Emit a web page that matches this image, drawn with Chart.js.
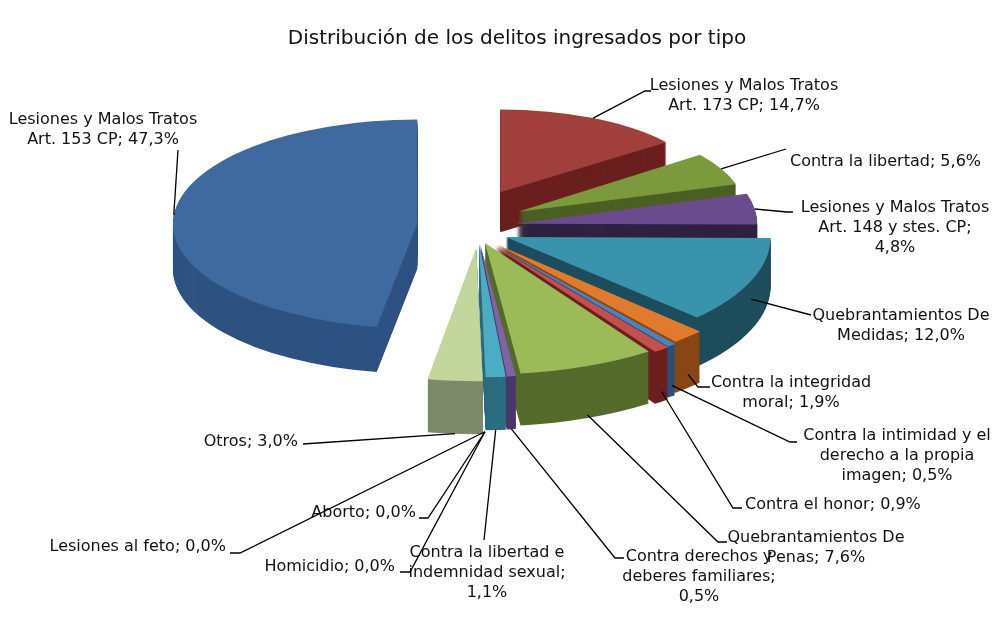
<!DOCTYPE html>
<html>
<head>
<meta charset="utf-8">
<script src="https://cdn.jsdelivr.net/npm/chart.js@4.4.1/dist/chart.umd.min.js"></script>
<style>
  html, body { margin: 0; padding: 0; background: #fff; }
  canvas { display: block; }
</style>
</head>
<body>
<canvas id="pieChart" width="1000" height="632"></canvas>
<script>
// data
const categories = [
  'Lesiones y Malos Tratos\nArt. 173 CP',
  'Contra la libertad',
  'Lesiones y Malos Tratos\nArt. 148 y stes. CP',
  'Quebrantamientos De\nMedidas',
  'Contra la integridad\nmoral',
  'Contra la intimidad y el\nderecho a la propia\nimagen',
  'Contra el honor',
  'Quebrantamientos De\nPenas',
  'Contra derechos y\ndeberes familiares',
  'Contra la libertad e\nindemnidad sexual',
  'Homicidio',
  'Lesiones al feto',
  'Aborto',
  'Otros',
  'Lesiones y Malos Tratos\nArt. 153 CP'
];
const values = [14.7, 5.6, 4.8, 12.0, 1.9, 0.5, 0.9, 7.6, 0.5, 1.1, 0.0, 0.0, 0.0, 3.0, 47.3];

// styles
const topColors = ['#A13F3C', '#7A9A3C', '#6A4C8E', '#3A93AD', '#E07A2E', '#4F81BD', '#C4504D',
  '#9BBB59', '#8064A2', '#4BACC6', '#999999', '#999999', '#999999', '#C3D69B', '#3E6A9F'];
const sideColors = ['#6B1F1E', '#4B6024', '#2E2142', '#1E4D5D', '#8A4716', '#2B4E7B', '#6C1F1F',
  '#556B2C', '#4A3768', '#2A6C80', '#666666', '#666666', '#666666', '#7D8A6A', '#2E5282'];
const explode = [50, 45, 38, 30, 28, 28, 28, 20, 20, 20, 22, 22, 22, 25, 61];
const TILT = 0.43;      // vertical squash of the pie
const PERSP_X = 0.18;   // slices toward the viewer look wider
const PERSP_Y = 0.25;   // ... and deeper
const EXPLODE_V = 0.8;
const DEPTH = 46;

// label placement: text anchor, leader end and tick end
const labelLayout = [
  { x: 744, y: 86,  align: 'center', ex: 645, ey: 91,  tx: 651 },
  { x: 790, y: 162, align: 'left',   ex: 786, ey: 149, tx: 786 },
  { x: 895, y: 208, align: 'center', ex: 787, ey: 212, tx: 793, brk: true },
  { x: 901, y: 316, align: 'center', ex: 811, ey: 315, tx: 811 },
  { x: 791, y: 383, align: 'center', ex: 698, ey: 387, tx: 710 },
  { x: 897, y: 436, align: 'center', ex: 790, ey: 442, tx: 797 },
  { x: 745, y: 505, align: 'left',   ex: 733, ey: 508, tx: 742 },
  { x: 816, y: 538, align: 'center', ex: 718, ey: 542, tx: 727 },
  { x: 699, y: 557, align: 'center', ex: 615, ey: 558, tx: 624, brk: true },
  { x: 487, y: 553, align: 'center', ex: 484, ey: 540, tx: 484, brk: true },
  { x: 395, y: 567, align: 'right',  ex: 410, ey: 572, tx: 400 },
  { x: 226, y: 547, align: 'right',  ex: 240, ey: 553, tx: 230 },
  { x: 416, y: 513, align: 'right',  ex: 428, ey: 518, tx: 419 },
  { x: 298, y: 442, align: 'right',  ex: 303, ey: 444, tx: 303 },
  { x: 103, y: 120, align: 'center', ex: 178, ey: 150, tx: 178 }
];

const fmt = v => v.toFixed(1).replace('.', ',') + '%';

// where a slice sits once tilted and pulled out
function sliceGeom(arc, i) {
  const mid = (arc.startAngle + arc.endAngle) / 2;
  const c = Math.cos(mid), s = Math.sin(mid);
  return {
    c, s,
    ax: arc.x + c * explode[i],
    ay: arc.y + s * explode[i] * EXPLODE_V,
    sx: 1 + PERSP_X * s,
    sy: (1 + PERSP_Y * s) * TILT,
    depth: DEPTH * (1 + 0.15 * s)
  };
}

function place(ctx, arc, g, d) {
  ctx.translate(g.ax, g.ay + d);
  ctx.scale(g.sx, g.sy);
  ctx.translate(-arc.x, -arc.y);
}

const pie3d = {
  id: 'pie3d',
  beforeDatasetsDraw(chart) {
    const ctx = chart.ctx;
    const arcs = chart.getDatasetMeta(0).data;
    const front = i => Math.sin((arcs[i].startAngle + arcs[i].endAngle) / 2);
    const order = arcs.map((a, i) => i).sort((a, b) => front(a) - front(b));
    order.forEach(i => {
      const arc = arcs[i];
      if (!values[i]) return;
      const g = sliceGeom(arc, i);
      const opts = arc.options;
      arc.options = Object.assign({}, opts, { backgroundColor: sideColors[i] });
      for (let d = Math.round(g.depth); d >= 1; d--) {
        ctx.save();
        place(ctx, arc, g, d);
        arc.draw(ctx);
        ctx.restore();
      }
      arc.options = opts;
      ctx.save();
      place(ctx, arc, g, 0);
      arc.draw(ctx);
      ctx.restore();
    });
    return false;
  },
  afterDraw(chart) {
    const ctx = chart.ctx;
    const arcs = chart.getDatasetMeta(0).data;
    ctx.save();
    // title
    ctx.fillStyle = '#111';
    ctx.font = '20px "DejaVu Sans", Verdana, sans-serif';
    ctx.textAlign = 'center';
    ctx.textBaseline = 'middle';
    ctx.fillText('Distribución de los delitos ingresados por tipo', 517, 39);

    ctx.font = '16px "DejaVu Sans", Verdana, sans-serif';
    ctx.strokeStyle = '#000';
    ctx.lineWidth = 1.3;
    arcs.forEach((arc, i) => {
      const L = labelLayout[i];
      const g = sliceGeom(arc, i);
      const r = arc.outerRadius;
      const px = g.ax + g.c * r * g.sx;
      const py = g.ay + g.s * r * g.sy + g.depth * Math.max(0, g.s);
      ctx.beginPath();
      ctx.moveTo(px, py);
      ctx.lineTo(L.ex, L.ey);
      ctx.lineTo(L.tx, L.ey);
      ctx.stroke();

      const lines = categories[i].split('\n');
      if (L.brk) {
        lines[lines.length - 1] += ';';
        lines.push(fmt(values[i]));
      } else {
        lines[lines.length - 1] += '; ' + fmt(values[i]);
      }
      ctx.textAlign = L.align;
      lines.forEach((t, k) => ctx.fillText(t, L.x, L.y + k * 20));
    });
    ctx.restore();
  }
};

const ctx = document.getElementById('pieChart').getContext('2d');
const myChart = new Chart(ctx, {
  type: 'pie',
  data: {
    labels: categories,
    datasets: [{
      data: values,
      backgroundColor: topColors,
      borderWidth: 0,
      offset: 0,
      radius: 248
    }]
  },
  options: {
    responsive: false,
    animation: false,
    events: [],
    layout: { padding: { left: 0, right: 44, top: 0, bottom: 176 } },
    plugins: {
      legend: { display: false },
      tooltip: { enabled: false },
      title: { display: false }
    }
  },
  plugins: [pie3d]
});
</script>
</body>
</html>
